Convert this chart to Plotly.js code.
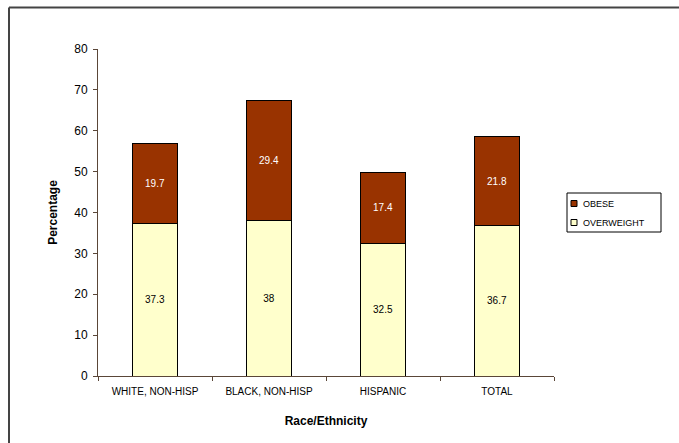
<!DOCTYPE html>
<html>
<head>
<meta charset="utf-8">
<script src="https://cdn.plot.ly/plotly-3.0.1.min.js"></script>
<style>
  html, body { margin: 0; padding: 0; background: #fff; overflow: hidden; }
  #chart { width: 679px; height: 443px; }
</style>
</head>
<body>
<div id="chart"></div>
<script>
// Overweight and obesity prevalence by race/ethnicity (percent)
const categories = ['WHITE, NON-HISP', 'BLACK, NON-HISP', 'HISPANIC', 'TOTAL'];
const overweight = [37.3, 38, 32.5, 36.7];
const obese = [19.7, 29.4, 17.4, 21.8];
const seriesNames = ['OBESE', 'OVERWEIGHT'];
const yTicks = [0, 10, 20, 30, 40, 50, 60, 70, 80];

const axisColor = '#5a4638';
const obeseColor = '#993300';
const overweightColor = '#FFFFCC';
const fontFamily = 'Liberation Sans, Arial, sans-serif';

// plot area in pixels, used to place the frame and the key in paper units
const W = 679, H = 443;
const M = { l: 98, r: 125, t: 49, b: 67 };
const plotW = W - M.l - M.r, plotH = H - M.t - M.b;
const px = x => (x - M.l) / plotW;
const py = y => (H - M.b - y) / plotH;

const traces = [
  {
    type: 'bar',
    name: 'OVERWEIGHT',
    x: categories,
    y: overweight,
    text: overweight.map(String),
    textposition: 'inside',
    insidetextanchor: 'middle',
    textfont: { family: fontFamily, size: 10, color: '#000' },
    marker: { color: overweightColor, line: { color: '#000', width: 1 } }
  },
  {
    type: 'bar',
    name: 'OBESE',
    x: categories,
    y: obese,
    text: obese.map(String),
    textposition: 'inside',
    insidetextanchor: 'middle',
    textfont: { family: fontFamily, size: 10, color: '#fff' },
    marker: { color: obeseColor, line: { color: '#000', width: 1 } }
  }
];

// key: box, swatches and labels
const keyColors = [obeseColor, overweightColor];
const keyRowsY = [203.5, 222.5];
const keyShapes = [
  { type: 'rect', xref: 'paper', yref: 'paper',
    x0: px(567), x1: px(661), y0: py(193), y1: py(232),
    line: { color: '#000', width: 1 }, fillcolor: '#fff', layer: 'above' }
];
const keyAnnotations = [];
seriesNames.forEach((name, i) => {
  keyShapes.push({ type: 'rect', xref: 'paper', yref: 'paper',
    x0: px(571), x1: px(577), y0: py(keyRowsY[i] - 3), y1: py(keyRowsY[i] + 3),
    line: { color: '#000', width: 1 }, fillcolor: keyColors[i], layer: 'above' });
  keyAnnotations.push({ xref: 'paper', yref: 'paper',
    x: px(581), y: py(keyRowsY[i]), xanchor: 'left', yanchor: 'middle',
    text: name, showarrow: false, font: { family: fontFamily, size: 9, color: '#000' } });
});

const layout = {
  width: W,
  height: H,
  margin: { l: M.l, r: M.r, t: M.t, b: M.b, autoexpand: false },
  paper_bgcolor: '#fff',
  plot_bgcolor: '#fff',
  barmode: 'stack',
  bargap: 0.6,
  showlegend: false,
  font: { family: fontFamily, color: '#000' },
  xaxis: {
    type: 'category',
    showline: true,
    linecolor: axisColor,
    linewidth: 1,
    ticks: 'outside',
    ticklen: 4,
    tickcolor: axisColor,
    tickson: 'boundaries',
    ticklabelstandoff: 6,
    tickfont: { size: 10, color: '#000' },
    showgrid: false,
    zeroline: false,
    title: { text: '<b>Race/Ethnicity</b>', font: { size: 12, color: '#000' }, standoff: 20 }
  },
  yaxis: {
    range: [0, 80],
    tickvals: yTicks,
    ticktext: yTicks.map(String),
    showline: true,
    linecolor: axisColor,
    linewidth: 1,
    ticks: 'outside',
    ticklen: 4,
    tickcolor: axisColor,
    ticklabelstandoff: 3,
    tickfont: { size: 12, color: '#000' },
    showgrid: false,
    zeroline: false,
    title: { text: '<b>Percentage</b>', font: { size: 12, color: '#000' }, standoff: 14 }
  },
  shapes: [
    // outer chart frame: top and left edges
    { type: 'line', xref: 'paper', yref: 'paper',
      x0: px(9), x1: px(W), y0: py(7.5), y1: py(7.5),
      line: { color: '#444', width: 2 } },
    { type: 'line', xref: 'paper', yref: 'paper',
      x0: px(9), x1: px(9), y0: py(7.5), y1: py(H),
      line: { color: '#444', width: 2 } }
  ].concat(keyShapes),
  annotations: keyAnnotations
};

Plotly.newPlot('chart', traces, layout, { displayModeBar: false, staticPlot: true });
</script>
</body>
</html>
